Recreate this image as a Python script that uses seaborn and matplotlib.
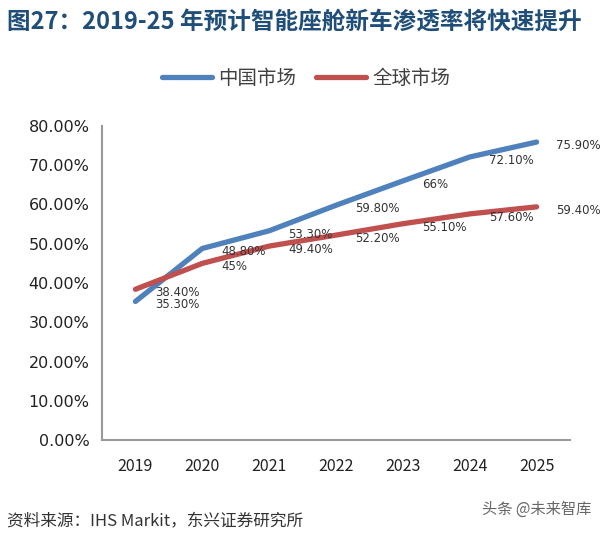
import pandas as pd
import matplotlib
matplotlib.use('Agg')
import matplotlib.pyplot as plt
import seaborn as sns
from matplotlib.lines import Line2D

years = [2019, 2020, 2021, 2022, 2023, 2024, 2025]
china = [35.3, 48.8, 53.3, 59.8, 66.0, 72.1, 75.9]
world = [38.4, 45.0, 49.4, 52.2, 55.1, 57.6, 59.4]
china_labels = ['35.30%', '48.80%', '53.30%', '59.80%', '66%', '72.10%', '75.90%']
world_labels = ['38.40%', '45%', '49.40%', '52.20%', '55.10%', '57.60%', '59.40%']
yticks = [0, 10, 20, 30, 40, 50, 60, 70, 80]

sns.set_style('white')
plt.rcParams['font.family'] = ['Noto Sans CJK SC', 'DejaVu Sans']

df = pd.DataFrame({'Year': years * 2,
                   'Value': china + world,
                   'Market': ['中国市场'] * 7 + ['全球市场'] * 7})

fig = plt.figure(figsize=(6, 5.36), dpi=100)
ax = fig.add_axes([0.17, 0.179, 0.78, 0.586])

sns.lineplot(data=df, x='Year', y='Value', hue='Market',
             palette=['#4F81BD', '#C0504D'], linewidth=3.8, ax=ax,
             legend=False, solid_capstyle='round')

# data labels, to the right of each point
for vals, labs in [(china, china_labels), (world, world_labels)]:
    for x, y, s in zip(years, vals, labs):
        ax.annotate(s, (x, y), xytext=(14, -2.5), textcoords='offset points',
                    ha='left', va='center', fontsize=8.5, color='#333333',
                    family='DejaVu Sans', annotation_clip=False)

ax.set_xlim(2018.5, 2025.5)
ax.set_ylim(0, 80)
ax.set_yticks(yticks)
ax.set_yticklabels(['%.2f%%' % v for v in yticks], fontsize=11.5,
                   family='DejaVu Sans', color='#222222')
ax.set_xticks(years)
ax.set_xticklabels([str(y) for y in years], fontsize=11.5, color='#222222')
ax.set_xticks([y - 0.5 for y in years] + [2025.5], minor=True)
ax.tick_params(axis='x', which='major', length=0, pad=13)
ax.tick_params(axis='x', which='minor', length=5, color='#999999', direction='out')
ax.tick_params(axis='y', length=5, color='#999999', direction='out', pad=4)
ax.set_xlabel('')
ax.set_ylabel('')
for side in ['top', 'right']:
    ax.spines[side].set_visible(False)
for side in ['left', 'bottom']:
    ax.spines[side].set_color('#999999')
    ax.spines[side].set_linewidth(1.5)

# legend
handles = [Line2D([], [], color='#4F81BD', lw=3.8, solid_capstyle='round'),
           Line2D([], [], color='#C0504D', lw=3.8, solid_capstyle='round')]
leg = fig.legend(handles, ['中国市场', '全球市场'], loc='center', ncol=2,
                 bbox_to_anchor=(0.51, 0.853), frameon=False, fontsize=14,
                 handlelength=2.6, columnspacing=1.0, handletextpad=0.3)
for t in leg.get_texts():
    t.set_color('#404040')

fig.text(0.012, 0.958, '图27：2019-25 年预计智能座舱新车渗透率将快速提升',
         fontsize=17, fontweight='bold', color='#1F4E79', va='center')
fig.text(0.012, 0.026, '资料来源：IHS Markit，东兴证券研究所', fontsize=12,
         style='italic', color='#333333', va='center')
fig.text(0.985, 0.05, '头条 @未来智库', fontsize=11, color='#666666',
         ha='right', va='center')

fig.savefig('out.png', dpi=100)
